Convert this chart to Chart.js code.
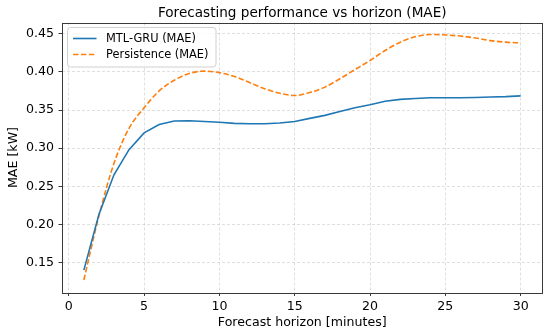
<!DOCTYPE html>
<html>
<head>
<meta charset="utf-8">
<script src="https://cdn.jsdelivr.net/npm/chart.js@4.4.0/dist/chart.umd.min.js"></script>
<style>
  html, body { margin: 0; padding: 0; background: #ffffff; }
  #wrap { width: 550px; height: 335px; }
</style>
</head>
<body>
<div id="wrap"><canvas id="c" width="550" height="335"></canvas></div>
<script>
const horizons = [1,2,3,4,5,6,7,8,9,10,11,12,13,14,15,16,17,18,19,20,21,22,23,24,25,26,27,28,29,30];
const mtlGru = [0.140,0.213,0.265,0.298,0.320,0.331,0.3355,0.336,0.335,0.334,0.3325,0.332,0.332,0.333,0.335,0.339,0.343,0.348,0.353,0.357,0.3615,0.364,0.365,0.366,0.366,0.366,0.3665,0.367,0.3675,0.3685];
const persistence = [0.127,0.211,0.280,0.326,0.353,0.375,0.389,0.398,0.401,0.399,0.394,0.386,0.378,0.372,0.369,0.373,0.380,0.391,0.403,0.415,0.428,0.439,0.446,0.449,0.4485,0.447,0.4445,0.441,0.439,0.438];
const xTicks = [0,5,10,15,20,25,30];
const yTicks = [0.15,0.20,0.25,0.30,0.35,0.40,0.45];
const seriesNames = ['MTL-GRU (MAE)','Persistence (MAE)'];
const titleText = 'Forecasting performance vs horizon (MAE)';
const xLabel = 'Forecast horizon [minutes]';
const yLabel = 'MAE [kW]';

const FONT = '"DejaVu Sans", "Liberation Sans", sans-serif';
const BLUE = '#1f77b4';
const ORANGE = '#ff7f0e';
const SPINE = '#3a3a3a';
const GRID = 'rgba(176,176,176,0.4)';

const decorPlugin = {
  id: 'decor',
  afterDatasetsDraw(chart) {
    const ctx = chart.ctx;
    const a = chart.chartArea;
    ctx.save();
    ctx.strokeStyle = SPINE;
    ctx.lineWidth = 1;
    ctx.setLineDash([]);
    ctx.strokeRect(Math.round(a.left) + 0.5, Math.round(a.top) + 0.5, Math.round(a.right - a.left) - 1, Math.round(a.bottom - a.top));
    const lx = a.left + 5.5, ly = a.top + 5, lw = 148.5, lh = 39.5, r = 3;
    ctx.beginPath();
    ctx.moveTo(lx + r, ly);
    ctx.lineTo(lx + lw - r, ly);
    ctx.quadraticCurveTo(lx + lw, ly, lx + lw, ly + r);
    ctx.lineTo(lx + lw, ly + lh - r);
    ctx.quadraticCurveTo(lx + lw, ly + lh, lx + lw - r, ly + lh);
    ctx.lineTo(lx + r, ly + lh);
    ctx.quadraticCurveTo(lx, ly + lh, lx, ly + lh - r);
    ctx.lineTo(lx, ly + r);
    ctx.quadraticCurveTo(lx, ly, lx + r, ly);
    ctx.closePath();
    ctx.fillStyle = 'rgba(255,255,255,0.8)';
    ctx.fill();
    ctx.strokeStyle = '#d0d0d0';
    ctx.lineWidth = 1;
    ctx.stroke();
    const rows = [ly + 11, ly + 27];
    chart.data.datasets.forEach((ds, i) => {
      const y = rows[i];
      ctx.beginPath();
      ctx.strokeStyle = ds.borderColor;
      ctx.lineWidth = ds.borderWidth;
      ctx.setLineDash(ds.borderDash || []);
      ctx.moveTo(lx + 5.5, y);
      ctx.lineTo(lx + 29, y);
      ctx.stroke();
      ctx.setLineDash([]);
      ctx.fillStyle = '#000000';
      ctx.font = '11.4px ' + FONT;
      ctx.textAlign = 'left';
      ctx.textBaseline = 'middle';
      ctx.fillText(ds.label, lx + 38.5, y + 0.5);
    });
    const cx = (a.left + a.right) / 2;
    ctx.fillStyle = '#000000';
    ctx.textAlign = 'center';
    ctx.textBaseline = 'alphabetic';
    ctx.font = '13.6px ' + FONT;
    ctx.fillText(titleText, cx, 16.7);
    ctx.font = '12.6px ' + FONT;
    ctx.fillText(xLabel, cx, 326.3);
    ctx.save();
    ctx.translate(16.8, (a.top + a.bottom) / 2);
    ctx.rotate(-Math.PI / 2);
    ctx.fillText(yLabel, 0, 0);
    ctx.restore();
    ctx.restore();
  }
};

const gridCommon = {
  color: GRID,
  lineWidth: 1,
  drawTicks: true,
  tickLength: 3.5,
  tickColor: SPINE,
  tickWidth: 1,
  tickBorderDash: []
};

new Chart(document.getElementById('c'), {
  type: 'line',
  data: {
    datasets: [
      {
        label: seriesNames[0],
        data: horizons.map((h, i) => ({ x: h, y: mtlGru[i] })),
        borderColor: BLUE,
        backgroundColor: BLUE,
        borderWidth: 1.6,
        pointRadius: 0,
        tension: 0,
        fill: false
      },
      {
        label: seriesNames[1],
        data: horizons.map((h, i) => ({ x: h, y: persistence[i] })),
        borderColor: ORANGE,
        backgroundColor: ORANGE,
        borderWidth: 1.6,
        borderDash: [5.5, 2.4],
        pointRadius: 0,
        cubicInterpolationMode: 'monotone',
        fill: false
      }
    ]
  },
  options: {
    responsive: false,
    animation: false,
    devicePixelRatio: 1,
    layout: { padding: { top: 22.5, right: 7.5, left: 0, bottom: 0 } },
    plugins: {
      legend: { display: false },
      title: { display: false },
      tooltip: { enabled: false }
    },
    scales: {
      x: {
        type: 'linear',
        min: -0.45,
        max: 31.45,
        afterBuildTicks: (s) => { s.ticks = xTicks.map(v => ({ value: v })); },
        afterFit: (s) => { s.height = 42.5; },
        ticks: {
          color: '#000000',
          font: { family: FONT, size: 12.6 },
          padding: 3,
          maxRotation: 0,
          autoSkip: false,
          callback: (v) => String(v)
        },
        grid: gridCommon,
        border: { display: false, dash: [3, 2] }
      },
      y: {
        type: 'linear',
        min: 0.1106,
        max: 0.4648,
        afterBuildTicks: (s) => { s.ticks = yTicks.map(v => ({ value: v })); },
        afterFit: (s) => { s.width = 62; },
        ticks: {
          color: '#000000',
          font: { family: FONT, size: 12.6 },
          padding: 4.5,
          autoSkip: false,
          callback: (v) => Number(v).toFixed(2)
        },
        grid: gridCommon,
        border: { display: false, dash: [3, 2] }
      }
    }
  },
  plugins: [decorPlugin]
});
</script>
</body>
</html>
